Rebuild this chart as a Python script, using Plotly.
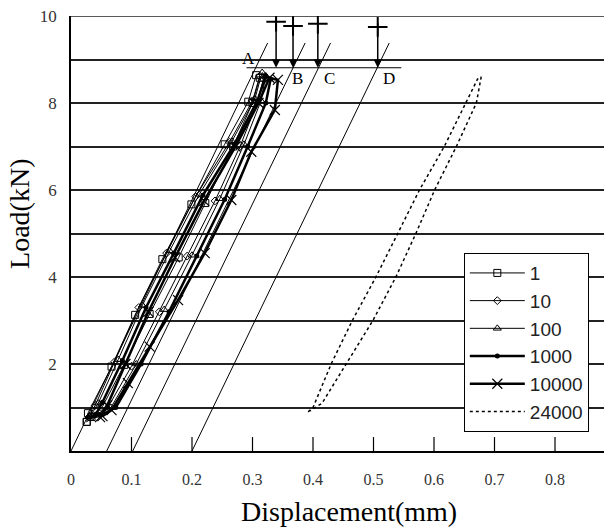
import plotly.graph_objects as go

# ---------------- data ----------------
s1_x = [0.026, 0.028, 0.067, 0.106, 0.151, 0.199, 0.254, 0.293, 0.306, 0.312, 0.300, 0.268, 0.222, 0.178, 0.130, 0.088, 0.052, 0.034, 0.026]
s1_y = [0.67, 0.87, 1.94, 3.13, 4.41, 5.67, 7.05, 8.03, 8.64, 8.58, 8.00, 7.00, 5.70, 4.45, 3.15, 1.98, 1.02, 0.78, 0.67]

s10_x = [0.030, 0.040, 0.072, 0.112, 0.158, 0.206, 0.262, 0.300, 0.312, 0.318, 0.308, 0.280, 0.238, 0.192, 0.146, 0.100, 0.060, 0.036, 0.030]
s10_y = [0.78, 1.05, 2.05, 3.30, 4.55, 5.85, 7.10, 8.05, 8.62, 8.55, 8.02, 7.02, 5.75, 4.48, 3.20, 1.95, 0.98, 0.80, 0.78]

s100_x = [0.032, 0.045, 0.078, 0.118, 0.163, 0.212, 0.266, 0.304, 0.316, 0.322, 0.314, 0.286, 0.246, 0.200, 0.154, 0.108, 0.066, 0.040, 0.032]
s100_y = [0.80, 1.10, 2.10, 3.35, 4.60, 5.90, 7.12, 8.10, 8.70, 8.62, 8.05, 7.05, 5.80, 4.50, 3.25, 2.00, 1.00, 0.82, 0.80]

s1000_x = [0.040, 0.052, 0.085, 0.124, 0.170, 0.218, 0.270, 0.308, 0.322, 0.330, 0.322, 0.292, 0.254, 0.208, 0.162, 0.116, 0.074, 0.048, 0.040]
s1000_y = [0.82, 1.12, 2.08, 3.30, 4.55, 5.88, 7.05, 8.05, 8.62, 8.55, 8.00, 7.00, 5.78, 4.48, 3.20, 2.00, 1.00, 0.82, 0.82]

s10000_x = [0.048, 0.060, 0.090, 0.128, 0.172, 0.220, 0.272, 0.310, 0.328, 0.342, 0.337, 0.298, 0.265, 0.221, 0.177, 0.130, 0.094, 0.067, 0.052]
s10000_y = [0.78, 1.05, 2.00, 3.20, 4.45, 5.75, 7.00, 8.00, 8.58, 8.53, 7.84, 6.88, 5.77, 4.55, 3.47, 2.40, 1.56, 0.94, 0.80]

s24000_x = [0.392, 0.400, 0.430, 0.465, 0.504, 0.540, 0.576, 0.617, 0.653, 0.672, 0.678, 0.670, 0.637, 0.601, 0.570, 0.537, 0.499, 0.455, 0.415, 0.395]
s24000_y = [0.90, 1.00, 2.00, 3.00, 4.00, 5.00, 6.00, 7.00, 8.00, 8.55, 8.60, 8.00, 7.00, 6.00, 5.00, 4.00, 3.00, 2.00, 1.10, 0.92]

series_names = ["1", "10", "100", "1000", "10000", "24000"]

# reference (offset) lines A-D
ref_labels = ["A", "B", "C", "D"]
ref_x0 = [0.0, 0.059, 0.102, 0.200]
ref_top_x = [0.325, 0.387, 0.429, 0.526]
ref_top_y = 9.38
ref_label_x = [0.293, 0.375, 0.428, 0.525]
ref_label_y = [9.03, 8.57, 8.57, 8.57]

# horizontal reference level
hline_x = [0.29, 0.546]
hline_y = 8.81

# arrows
arrow_x = [0.339, 0.367, 0.408, 0.507]
arrow_top_y = [9.87, 9.77, 9.82, 9.75]
arrow_tip_y = [8.81, 8.81, 8.81, 8.81]

x_ticks = [0, 0.1, 0.2, 0.3, 0.4, 0.5, 0.6, 0.7, 0.8]
x_ticktext = ["0", "0.1", "0.2", "0.3", "0.4", "0.5", "0.6", "0.7", "0.8"]
y_ticks = [1, 2, 3, 4, 5, 6, 7, 8, 9, 10]
y_ticktext = ["", "2", "", "4", "", "6", "", "8", "", "10"]
x_range = [0, 0.881]
y_range = [0, 10]
tick_mark_height = 0.32   # inside tick length expressed in kN (about 14 px)

# ---------------- figure ----------------
SERIF = "Liberation Serif, Times New Roman, serif"
SANS = "Liberation Sans, Arial, sans-serif"
CLEAR = "rgba(0,0,0,0)"

fig = go.Figure()

# top border line at the axis maximum (drawn as a line trace, not clipped)
fig.add_trace(go.Scatter(x=x_range, y=[y_range[1], y_range[1]], mode="lines",
                         line=dict(color="#222", width=1.5), cliponaxis=False,
                         showlegend=False, hoverinfo="skip"))

# inside tick marks on the x axis
tick_x, tick_y = [], []
for t in x_ticks[1:]:
    tick_x += [t, t, None]
    tick_y += [0, tick_mark_height, None]
fig.add_trace(go.Scatter(x=tick_x, y=tick_y, mode="lines",
                         line=dict(color="black", width=1.2),
                         showlegend=False, hoverinfo="skip"))

# reference lines
for i in range(len(ref_labels)):
    fig.add_trace(go.Scatter(x=[ref_x0[i], ref_top_x[i]], y=[0, ref_top_y], mode="lines",
                             line=dict(color="black", width=1), showlegend=False, hoverinfo="skip"))
fig.add_trace(go.Scatter(x=hline_x, y=[hline_y, hline_y], mode="lines",
                         line=dict(color="black", width=1), showlegend=False, hoverinfo="skip"))

fig.add_trace(go.Scatter(x=s1_x, y=s1_y, name=series_names[0], mode="lines+markers",
                         line=dict(color="black", width=1),
                         marker=dict(symbol="square-open", size=7, color="black", line=dict(width=1))))
fig.add_trace(go.Scatter(x=s10_x, y=s10_y, name=series_names[1], mode="lines+markers",
                         line=dict(color="black", width=1),
                         marker=dict(symbol="diamond-open", size=6, color="black", line=dict(width=1))))
fig.add_trace(go.Scatter(x=s100_x, y=s100_y, name=series_names[2], mode="lines+markers",
                         line=dict(color="black", width=1),
                         marker=dict(symbol="triangle-up-open", size=7, color="black", line=dict(width=1))))
fig.add_trace(go.Scatter(x=s1000_x, y=s1000_y, name=series_names[3], mode="lines+markers",
                         line=dict(color="black", width=2.5),
                         marker=dict(symbol="circle", size=5, color="black")))
fig.add_trace(go.Scatter(x=s10000_x, y=s10000_y, name=series_names[4], mode="lines+markers",
                         line=dict(color="black", width=2.5),
                         marker=dict(symbol="x-thin-open", size=10, color="black", line=dict(width=1.2, color="black"))))
fig.add_trace(go.Scatter(x=s24000_x, y=s24000_y, name=series_names[5], mode="lines",
                         line=dict(color="black", width=1.5, dash="dot")))

# crosses at arrow tails
fig.add_trace(go.Scatter(x=arrow_x, y=arrow_top_y, mode="markers",
                         marker=dict(symbol="cross-thin-open", size=14, color="black",
                                     line=dict(width=2, color="black")),
                         showlegend=False, hoverinfo="skip"))

annotations = []
for i in range(len(arrow_x)):
    annotations.append(dict(x=arrow_x[i], y=arrow_tip_y[i], ax=arrow_x[i], ay=arrow_top_y[i] + 0.12,
                            xref="x", yref="y", axref="x", ayref="y", text="", showarrow=True,
                            arrowhead=2, arrowsize=1.1, arrowwidth=1.5, arrowcolor="black", standoff=0))
for i in range(len(ref_labels)):
    annotations.append(dict(x=ref_label_x[i], y=ref_label_y[i], xref="x", yref="y", text=ref_labels[i],
                            showarrow=False, font=dict(family=SERIF, size=17, color="black")))
annotations.append(dict(x=-0.0957, y=0.545, xref="paper", yref="paper", text="Load(kN)", textangle=-90,
                        showarrow=False, font=dict(family=SERIF, size=28, color="black"),
                        xanchor="center", yanchor="middle"))
annotations.append(dict(x=0.5216, y=-0.138, xref="paper", yref="paper", text="Displacement(mm)",
                        showarrow=False, font=dict(family=SERIF, size=28, color="black"),
                        xanchor="center", yanchor="middle"))

fig.update_layout(
    width=604, height=528,
    margin=dict(l=71, r=0, t=16, b=77),
    paper_bgcolor="white", plot_bgcolor="white",
    showlegend=True,
    legend=dict(x=0.737, y=0.455, xanchor="left", yanchor="top",
                bordercolor="black", borderwidth=1, bgcolor="white", itemwidth=55,
                font=dict(family=SANS, size=19, color="#222"), tracegroupgap=0),
    annotations=annotations,
    xaxis=dict(range=x_range, showline=True, linecolor="black", linewidth=1.5,
               ticks="outside", ticklen=13, tickcolor=CLEAR,
               tickvals=x_ticks, ticktext=x_ticktext, showgrid=False, zeroline=False,
               tickfont=dict(family=SERIF, size=16, color="#333")),
    yaxis=dict(range=y_range, showline=True, linecolor="black", linewidth=1.5,
               ticks="outside", ticklen=9, tickcolor=CLEAR,
               tickvals=y_ticks, ticktext=y_ticktext, zeroline=False,
               showgrid=True, gridcolor="#222", gridwidth=1.5,
               tickfont=dict(family=SERIF, size=17, color="#333")),
)

fig.write_html("out.html")
